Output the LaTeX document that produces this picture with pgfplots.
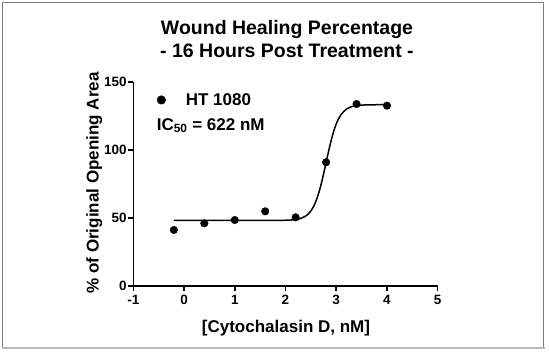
\documentclass[border=0pt]{standalone}
\usepackage{fontspec}
\setmainfont{Liberation Sans}
\usepackage{pgfplots}
\pgfplotsset{compat=1.18}
\definecolor{framegray}{RGB}{125,125,125}
\definecolor{bandgray}{RGB}{185,185,185}
\begin{document}
\begin{tikzpicture}
\useasboundingbox (0pt,0pt) rectangle (549pt,352pt);
\draw[line width=1pt, framegray] (2.5pt,5pt) -- (2.5pt,349.5pt) -- (543.8pt,349.5pt) -- (543.8pt,5pt);
\draw[line width=2.5pt, bandgray] (2pt,4.2pt) -- (545pt,4.2pt);
\node[anchor=base, inner sep=0pt, font=\fontsize{19.5}{23}\selectfont\bfseries] at (287pt,317pt) {Wound Healing Percentage};
\node[anchor=base, inner sep=0pt, font=\fontsize{19.5}{23}\selectfont\bfseries] at (287pt,294pt) {- 16 Hours Post Treatment -};
\node[rotate=90, anchor=base, inner sep=0pt, font=\fontsize{17}{19}\selectfont\bfseries] at (98.5pt,169pt) {\% of Original Opening Area};
\node[anchor=base, inner sep=0pt, font=\fontsize{17}{19}\selectfont\bfseries] at (286pt,19pt) {[Cytochalasin D, nM]};
\begin{axis}[
  at={(133.3pt,66pt)}, anchor=south west,
  scale only axis, width=304.4pt, height=204pt,
  xmin=-1, xmax=5, ymin=0, ymax=150,
  axis x line*=bottom, axis y line*=left,
  axis line style={line width=1.6pt, black},
  xtick={-1,0,1,2,3,4,5}, ytick={0,50,100,150},
  tick align=outside, major tick length=5.5pt,
  tick style={line width=1.6pt, black},
  ticklabel style={font=\fontsize{13.5}{15}\selectfont\bfseries},
  yticklabel style={inner sep=1pt},
  /pgf/number format/assume math mode=true,
  clip=false,
  legend style={draw=none, fill=none, at={(axis cs:-0.54,136.8)}, anchor=west,
    inner sep=0pt, nodes={inner sep=0pt, font=\fontsize{17}{19}\selectfont\bfseries},
    /tikz/every odd column/.style={column sep=20pt}},
  legend image code/.code={\fill[black] (4.3pt,0pt) circle (4.3pt);},
]
\addplot[black, line width=1.5pt, no marks, smooth, forget plot] coordinates {
(-0.2,48.2) (1.6,48.2) (1.9,48.26) (2.1,48.5) (2.2,48.87) (2.3,49.69) (2.4,51.46)
(2.45,52.98) (2.5,55.16) (2.55,58.21) (2.6,62.36) (2.65,67.76) (2.7,74.47)
(2.75,82.29) (2.8,90.75) (2.85,99.21) (2.9,107.03) (2.95,113.74) (3.0,119.15)
(3.05,123.28) (3.1,126.34) (3.2,130.04) (3.3,131.81) (3.4,132.63) (3.5,133.0)
(3.7,133.24) (4.0,133.3)
};
\addplot[black, only marks, mark=*, mark size=3.8pt] coordinates {
(-0.2,41.2) (0.4,46.1) (1.0,48.5) (1.6,54.9) (2.2,50.5) (2.8,91.0) (3.4,133.8) (4.0,132.6)
};
\addlegendentry{HT 1080}
\node[anchor=base west, inner sep=0pt, font=\fontsize{17}{19}\selectfont\bfseries] at (axis cs:-0.54,114.7) {IC\textsubscript{50} = 622 nM};
\end{axis}
\end{tikzpicture}
\end{document}
